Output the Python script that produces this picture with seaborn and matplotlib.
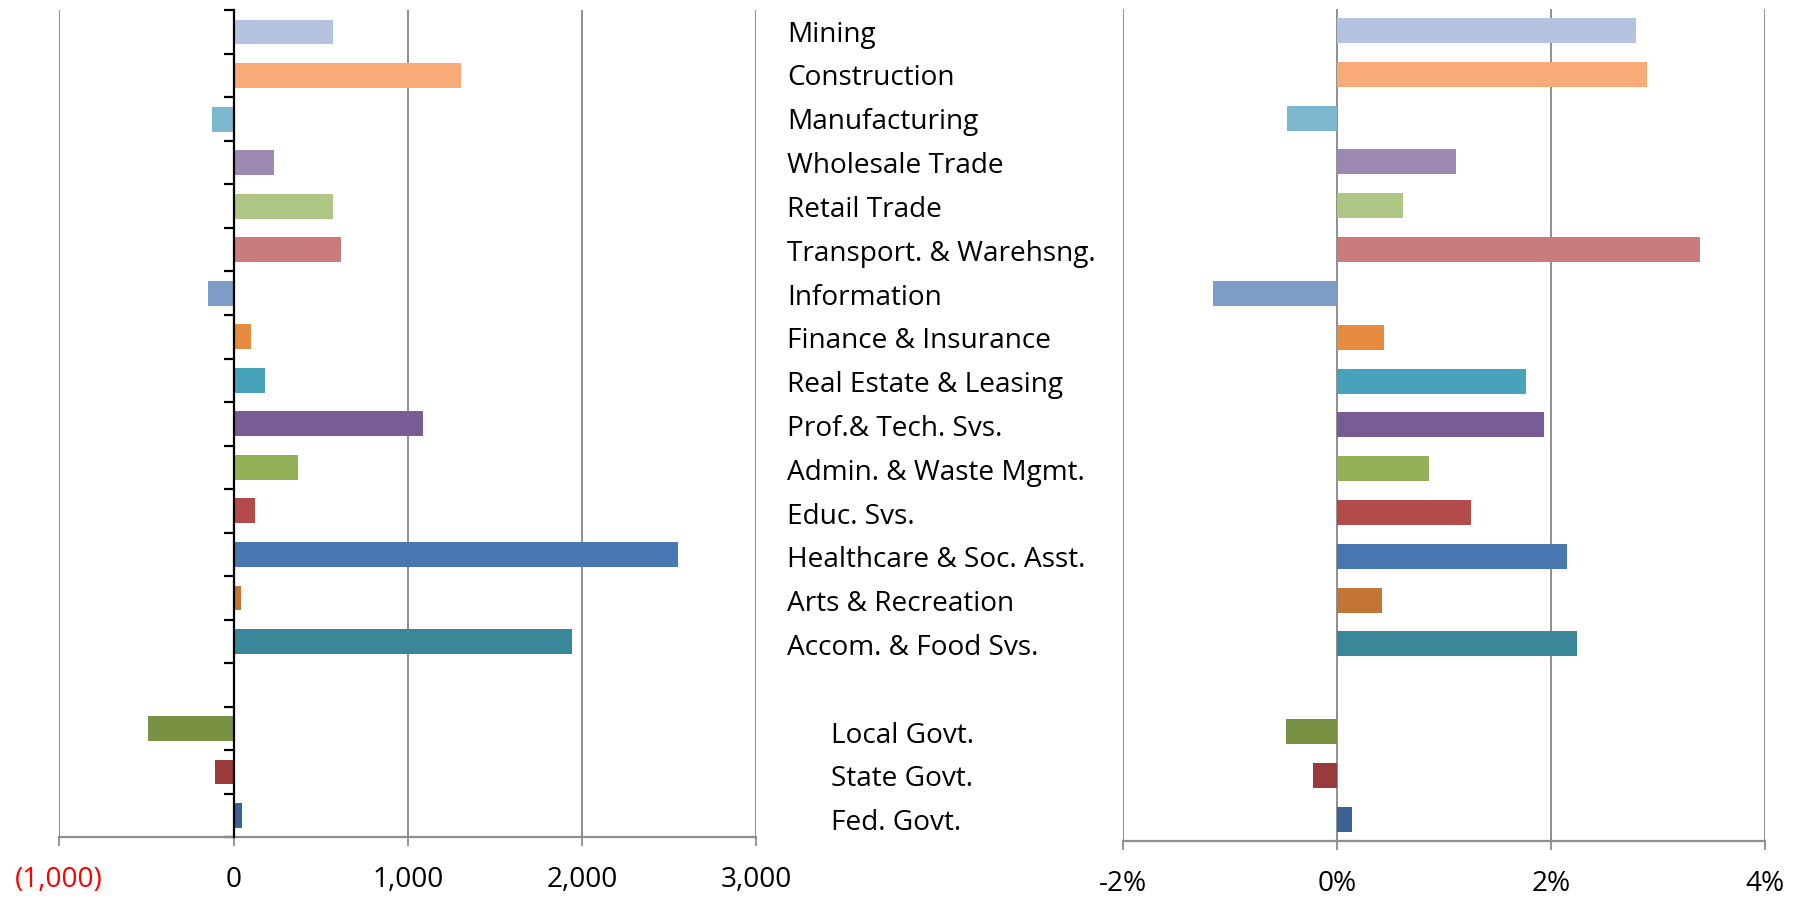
import matplotlib
matplotlib.use("Agg")
import matplotlib.pyplot as plt
import matplotlib.transforms as mtransforms
from matplotlib.ticker import FixedLocator, FuncFormatter
import seaborn as sns
import pandas as pd

industries = ["Mining", "Construction", "Manufacturing", "Wholesale Trade", "Retail Trade",
              "Transport. & Warehsng.", "Information", "Finance & Insurance",
              "Real Estate & Leasing", "Prof.& Tech. Svs.", "Admin. & Waste Mgmt.",
              "Educ. Svs.", "Healthcare & Soc. Asst.", "Arts & Recreation",
              "Accom. & Food Svs."]
governments = ["Local Govt.", "State Govt.", "Fed. Govt."]

ind_change = [570, 1305, -125, 235, 570, 615, -145, 100, 180, 1090, 368, 122, 2548, 40, 1945]
gov_change = [-492, -108, 47]
ind_pct = [2.80, 2.90, -0.47, 1.11, 0.62, 3.40, -1.16, 0.44, 1.77, 1.94, 0.86, 1.25, 2.15, 0.42, 2.24]
gov_pct = [-0.48, -0.23, 0.14]

ind_colors = ["#B4C3DE", "#F8AB79", "#7EB8CF", "#9D8AB3", "#AFC685", "#C97C7B", "#7F9CC9",
              "#E68B40", "#47A2BB", "#775C96", "#93B156", "#B34B4A", "#4977B1", "#C27534",
              "#3A8799"]
gov_colors = ["#7A9144", "#983B3A", "#3B6396"]

left_ticks = [-1000, 0, 1000, 2000, 3000]
right_ticks = [-2, 0, 2, 4]

gap = "__gap__"
cats = industries + governments
order = industries + [gap] + governments
df = pd.DataFrame({"cat": cats,
                   "change": ind_change + gov_change,
                   "pct": ind_pct + gov_pct})
palette = dict(zip(cats, ind_colors + gov_colors))

sns.set_theme(style="white")
plt.rcParams["font.family"] = ["Open Sans", "DejaVu Sans"]

W, H = 1793, 897
fig = plt.figure(figsize=(W / 100, H / 100), dpi=100)

ax1 = fig.add_axes([59.3 / W, (H - 837.3) / H, 697 / W, 827 / H])
ax2 = fig.add_axes([1123.4 / W, (H - 841.1) / H, 641.2 / W, 832.5 / H])

grid_c = "#8E8E8E"
fs = 20.2

for ax, col, ticks in [(ax1, "change", left_ticks), (ax2, "pct", right_ticks)]:
    sns.barplot(data=df, x=col, y="cat", hue="cat", order=order, hue_order=cats,
                palette=palette, saturation=1, width=0.57, orient="h",
                legend=False, ax=ax, linewidth=0, zorder=3)
    ax.set_xlim(ticks[0], ticks[-1])
    ax.set_ylim(len(order) - 0.5, -0.5)
    ax.xaxis.set_major_locator(FixedLocator(ticks))
    ax.grid(axis="x", color=grid_c, linewidth=1.4, zorder=0)
    ax.set_axisbelow(True)
    ax.set_xlabel("")
    ax.set_ylabel("")
    ax.set_yticks([])
    for s in ["top", "left", "right"]:
        ax.spines[s].set_visible(False)
    ax.spines["bottom"].set_color(grid_c)
    ax.spines["bottom"].set_linewidth(1.6)
    ax.tick_params(axis="x", direction="out", length=6.5, width=1.3, color=grid_c,
                   pad=14, labelsize=fs, labelcolor="black", bottom=True)
    ax.patch.set_alpha(0)

ax1.xaxis.set_major_formatter(FuncFormatter(
    lambda v, p: f"({abs(v):,.0f})" if v < 0 else f"{v:,.0f}"))
ax2.xaxis.set_major_formatter(FuncFormatter(lambda v, p: f"{v:.0f}%"))

# vertical zero axis with category-boundary ticks on the left panel
bounds = [i - 0.5 for i in range(len(order) + 1)]
ax1.yaxis.set_minor_locator(FixedLocator(bounds))
ax1.tick_params(axis="y", which="minor", direction="out", length=7, width=1.6,
                color="black", left=True)
ax1.spines["left"].set_visible(True)
ax1.spines["left"].set_position(("data", 0))
ax1.spines["left"].set_color("black")
ax1.spines["left"].set_linewidth(1.6)
ax1.spines["left"].set_zorder(4)

fig.canvas.draw()
for t, v in zip(ax1.get_xticklabels(), left_ticks):
    if v < 0:
        t.set_color("#FF0000")

# category labels in the middle
base = mtransforms.blended_transform_factory(fig.transFigure, ax2.transData)
trans = mtransforms.offset_copy(base, fig=fig, y=-8.0, units="points")
for i, name in enumerate(order):
    if name == gap:
        continue
    xpos = 787 / W if name in industries else 831 / W
    fig.text(xpos, i, name, transform=trans, ha="left", va="baseline",
             fontsize=fs, color="black")

fig.savefig("out.png", dpi=100)
